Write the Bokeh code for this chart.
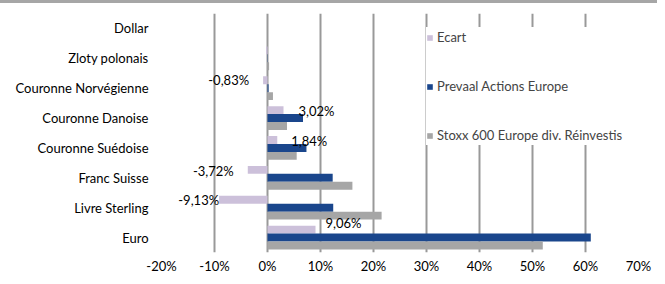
from bokeh.plotting import figure
from bokeh.models import ColumnDataSource, FactorRange, Range1d, PrintfTickFormatter, Legend, LegendItem, Div
from bokeh.transform import dodge
from bokeh.layouts import column
from bokeh.embed import file_html
from bokeh.resources import INLINE
from bokeh.core.properties import value

# ---- data ----
categories = ["Dollar", "Zloty polonais", "Couronne Norvégienne", "Couronne Danoise",
              "Couronne Suédoise", "Franc Suisse", "Livre Sterling", "Euro"]
ecart = [0.0, -0.25, -0.83, 3.02, 1.84, -3.72, -9.13, 9.06]
prevaal = [0.0, 0.05, 0.2, 6.7, 7.35, 12.3, 12.4, 61.0]
stoxx = [0.0, 0.3, 1.03, 3.68, 5.51, 16.02, 21.53, 51.94]
ecart_labels = ["", "", "-0,83%", "3,02%", "1,84%", "-3,72%", "-9,13%", "9,06%"]
x_ticks = [-20, -10, 0, 10, 20, 30, 40, 50, 60, 70]
series_names = ["Ecart", "Prevaal Actions Europe", "Stoxx 600 Europe div. Réinvestis"]

# ---- styles ----
FONT = "Lato"
FS = "13px"
colors = ["#ccc0da", "#1a468c", "#a6a6a6"]
label_dx = [0, 0, -14, 15, 14, -14, 0, 10]
label_dy = [0, 0, 0, 1, 1, 1, 0, -7]
bar_h = 0.265

src = ColumnDataSource(dict(
    cat=categories, ecart=ecart, prevaal=prevaal, stoxx=stoxx,
    label=ecart_labels, dx=label_dx, dy=label_dy,
    align=["right" if v < 0 else "left" for v in ecart],
))

p = figure(width=657, height=273,
           y_range=FactorRange(factors=list(reversed(categories))),
           x_range=Range1d(-20, 70),
           output_backend="svg", toolbar_location=None,
           min_border_left=161, min_border_right=19,
           min_border_top=10, min_border_bottom=21)
p.outline_line_color = None
p.background_fill_color = "white"
p.border_fill_color = "white"

r1 = p.hbar(y=dodge("cat", bar_h, range=p.y_range), right="ecart", left=0, height=bar_h,
            source=src, fill_color=colors[0], line_color=None)
r2 = p.hbar(y=dodge("cat", 0, range=p.y_range), right="prevaal", left=0, height=bar_h,
            source=src, fill_color=colors[1], line_color=None)
r3 = p.hbar(y=dodge("cat", -bar_h, range=p.y_range), right="stoxx", left=0, height=bar_h,
            source=src, fill_color=colors[2], line_color=None)

p.text(x="ecart", y=dodge("cat", bar_h, range=p.y_range), text="label", source=src,
       x_offset="dx", y_offset="dy", text_align="align", text_baseline="middle",
       text_font=value(FONT), text_font_size=FS, text_color="black")

# axes
p.xaxis.ticker = x_ticks
p.xaxis.formatter = PrintfTickFormatter(format="%d%%")
for ax in (p.xaxis, p.yaxis):
    ax.axis_line_color = None
    ax.major_tick_line_color = None
    ax.minor_tick_line_color = None
    ax.major_tick_in = 0
    ax.major_tick_out = 0
    ax.major_label_text_font = FONT
    ax.major_label_text_font_size = FS
    ax.major_label_text_color = "black"
p.yaxis.major_label_standoff = 13
p.xaxis.major_label_standoff = 5

p.ygrid.grid_line_color = None
p.xgrid.grid_line_color = "#999999"
p.xgrid.grid_line_width = 2

legend = Legend(items=[LegendItem(label=series_names[0], renderers=[r1]),
                       LegendItem(label=series_names[1], renderers=[r2]),
                       LegendItem(label=series_names[2], renderers=[r3])],
                location=(265, 107), margin=0, padding=14, spacing=29,
                label_height=20, glyph_height=7, glyph_width=7, label_standoff=4,
                label_width=200,
                background_fill_color="white", background_fill_alpha=1.0,
                border_line_color=None,
                label_text_font=FONT, label_text_font_size=FS)
p.add_layout(legend)

band = Div(text="", width=657, height=3, margin=0,
           styles={"background-color": "#a6a6a6"})

layout = column(band, p, spacing=0)
open("out.html", "w").write(file_html(layout, INLINE))
